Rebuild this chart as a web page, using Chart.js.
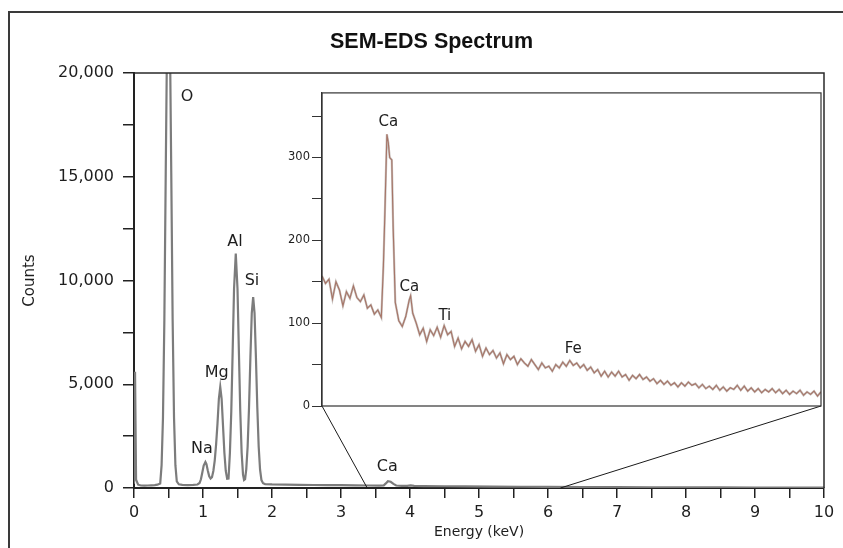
<!DOCTYPE html>
<html><head><meta charset="utf-8">
<script src="https://cdn.jsdelivr.net/npm/chart.js@4.4.1/dist/chart.umd.min.js"></script>
<style>
html,body{margin:0;padding:0;background:#fff;overflow:hidden;width:843px;height:548px;}
#frame{position:absolute;left:8px;top:11px;width:900px;height:700px;border-left:2.5px solid #3a3a3a;border-top:2.5px solid #3a3a3a;}
#main{position:absolute;left:0;top:0;}
#inset{position:absolute;left:280px;top:84px;}
</style></head><body>
<div id="frame"></div>
<canvas id="main" width="843" height="548"></canvas>
<canvas id="inset" width="550" height="334"></canvas>
<script>
// ---------- main spectrum (keV, counts) ----------
const mainEnergy = [0.00,0.015,0.03,0.06,0.10,0.15,0.20,0.25,0.30,0.34,0.38,0.40,0.42,0.44,0.46,0.48,0.50,0.52,0.54,0.56,0.58,0.60,0.62,0.65,0.70,0.78,0.86,0.92,0.95,0.97,0.99,1.01,1.035,1.05,1.07,1.09,1.11,1.13,1.15,1.17,1.19,1.21,1.23,1.25,1.27,1.29,1.31,1.33,1.35,1.37,1.39,1.41,1.43,1.45,1.475,1.50,1.52,1.54,1.56,1.58,1.595,1.61,1.627,1.647,1.667,1.687,1.707,1.727,1.747,1.767,1.787,1.807,1.827,1.847,1.87,1.90,2.00,2.20,2.40,2.60,2.80,3.00,3.20,3.40,3.55,3.62,3.65,3.68,3.72,3.76,3.80,3.88,3.96,4.01,4.06,4.20,4.50,4.80,5.20,5.60,6.00,6.50,7.00,7.50,8.00,8.50,9.00,9.50,10.00];
const mainCounts = [200,5600,400,160,120,110,120,130,140,160,220,1100,3400,8100,15200,22000,25000,22000,15200,8100,3400,1100,320,180,150,140,150,170,240,420,750,1080,1250,1150,830,560,460,520,820,1320,2100,3100,4300,4870,4300,3000,1700,820,450,460,1700,3700,6600,9600,11300,9600,6600,3700,1700,650,380,420,900,2000,3880,6300,8430,9200,8430,6300,3880,2000,880,380,230,190,170,160,150,145,140,135,128,120,115,130,220,330,300,200,120,105,100,130,105,95,85,75,68,60,52,45,40,35,30,26,22,19,16];

// ---------- inset spectrum (keV, counts) ----------
const insetEnergy = [2.75,2.80,2.85,2.90,2.95,3.00,3.05,3.10,3.15,3.20,3.25,3.30,3.35,3.40,3.45,3.50,3.55,3.60,3.63,3.65,3.68,3.70,3.72,3.75,3.77,3.80,3.85,3.90,3.95,4.00,4.02,
4.05,4.10,4.15,4.20,4.25,4.30,4.35,4.40,4.45,4.50,
4.55,4.60,4.65,4.70,4.75,4.80,4.85,4.90,4.95,5.00,
5.05,5.10,5.15,5.20,5.25,5.30,5.35,5.40,5.45,5.50,
5.55,5.60,5.65,5.70,5.75,5.80,5.85,5.90,5.95,6.00,
6.05,6.10,6.15,6.20,6.25,6.30,6.35,6.40,6.45,6.50,
6.55,6.60,6.65,6.70,6.75,6.80,6.85,6.90,6.95,7.00,
7.05,7.10,7.15,7.20,7.25,7.30,7.35,7.40,7.45,7.50,
7.55,7.60,7.65,7.70,7.75,7.80,7.85,7.90,7.95,8.00,
8.05,8.10,8.15,8.20,8.25,8.30,8.35,8.40,8.45,8.50,
8.55,8.60,8.65,8.70,8.75,8.80,8.85,8.90,8.95,9.00,
9.05,9.10,9.15,9.20,9.25,9.30,9.35,9.40,9.45,9.50,
9.55,9.60,9.65,9.70,9.75,9.80,9.85,9.90];
const insetCounts = [157,148,153,129,150,140,121,138,130,145,131,126,134,118,122,111,116,107,170,230,328,318,300,297,215,125,103,96,108,128,133,
112,100,86,94,78,92,85,95,83,97,
86,90,72,82,69,78,72,80,66,74,
60,70,62,67,58,64,51,62,56,60,
50,57,52,48,56,50,44,52,46,48,
42,50,46,53,48,55,49,52,46,50,
43,47,40,44,36,42,35,41,36,42,
35,38,31,37,33,38,32,35,30,33,
27,31,26,30,25,28,23,28,24,29,
25,27,22,26,21,24,20,25,19,23,
18,22,20,25,19,24,18,22,17,21,
16,20,17,21,16,20,15,19,14,18,
15,19,13,17,14,18,12,17];

// ---------- peak labels ----------
const mainLabelText   = ['O','Al','Si','Mg','Na','Ca'];
const mainLabelEnergy = [0.77,1.464,1.71,1.20,0.985,3.67];
const mainLabelCount  = [18850,11860,9980,5540,1880,1010];
const insetLabelText   = ['Ca','Ca','Ti','Fe'];
const insetLabelEnergy = [3.70,4.00,4.51,6.35];
const insetLabelCount  = [343,143,109,69];

// zoom window marked on main axis (keV)
const zoomSpan = [3.38, 6.18];

// axis ranges / ticks
const mainXRange = [0, 10];
const mainYRange = [0, 20000];
const insetXRange = [2.75, 9.9];
const insetYRange = [0, 378];

const TXT = '#1e1e1e';
const FONT = 'DejaVu Sans';

// ---------- inset chart ----------
const insetCanvas = document.getElementById('inset');
const insetDecor = {
  id: 'insetDecor',
  afterDraw(chart) {
    const {ctx, chartArea: a, scales: {x, y}} = chart;
    ctx.save();
    ctx.strokeStyle = '#333'; ctx.lineWidth = 1.2;
    ctx.strokeRect(a.left, a.top, a.right - a.left, a.bottom - a.top);
    ctx.fillStyle = TXT; ctx.font = '15px "' + FONT + '"';
    ctx.textAlign = 'center'; ctx.textBaseline = 'middle';
    insetLabelText.forEach((t, i) => ctx.fillText(t, x.getPixelForValue(insetLabelEnergy[i]), y.getPixelForValue(insetLabelCount[i])));
    ctx.restore();
  }
};
const insetPts = insetEnergy.map((e, i) => ({x: e, y: insetCounts[i]}));
const insetChart = new Chart(insetCanvas, {
  type: 'line',
  data: { datasets: [
    { data: insetPts, borderColor: 'rgba(160,150,145,0.6)', borderWidth: 2.2, pointRadius: 0, tension: 0 },
    { data: insetPts, borderColor: '#b0442a', borderWidth: 1.1, pointRadius: 0, tension: 0 }
  ]},
  options: {
    responsive: false, animation: false, events: [],
    layout: { padding: { left: 0, right: 9, top: 8, bottom: 12 } },
    plugins: { legend: { display: false }, tooltip: { enabled: false } },
    scales: {
      x: { type: 'linear', min: insetXRange[0], max: insetXRange[1], display: false },
      y: { type: 'linear', min: insetYRange[0], max: insetYRange[1],
        afterFit(s) { s.width = 42; },
        ticks: { stepSize: 50, includeBounds: false, padding: 2, color: TXT,
          font: { family: FONT, size: 11.5 },
          callback: v => (v % 100 === 0 ? String(v) : '') },
        grid: { drawOnChartArea: false, drawTicks: true, tickLength: 10, color: '#333', lineWidth: 1 },
        border: { color: '#333', width: 1.2 }
      }
    }
  },
  plugins: [insetDecor]
});

// ---------- main chart ----------
const mainDecor = {
  id: 'mainDecor',
  afterDraw(chart) {
    const {ctx, chartArea: a, scales: {x, y}} = chart;
    ctx.save();
    ctx.strokeStyle = '#2a2a2a'; ctx.lineWidth = 1.5;
    ctx.beginPath(); ctx.moveTo(a.left, a.top); ctx.lineTo(a.right, a.top); ctx.lineTo(a.right, a.bottom); ctx.stroke();
    const ia = insetChart.chartArea, ox = insetCanvas.offsetLeft, oy = insetCanvas.offsetTop;
    ctx.strokeStyle = '#1a1a1a'; ctx.lineWidth = 1;
    ctx.beginPath();
    ctx.moveTo(ox + ia.left, oy + ia.bottom); ctx.lineTo(x.getPixelForValue(zoomSpan[0]), y.getPixelForValue(0));
    ctx.moveTo(ox + ia.right, oy + ia.bottom); ctx.lineTo(x.getPixelForValue(zoomSpan[1]), y.getPixelForValue(0));
    ctx.stroke();
    ctx.fillStyle = TXT; ctx.font = '16px "' + FONT + '"';
    ctx.textAlign = 'center'; ctx.textBaseline = 'middle';
    mainLabelText.forEach((t, i) => ctx.fillText(t, x.getPixelForValue(mainLabelEnergy[i]), y.getPixelForValue(mainLabelCount[i])));
    ctx.restore();
  }
};
new Chart(document.getElementById('main'), {
  type: 'line',
  data: { datasets: [
    { data: mainEnergy.map((e, i) => ({x: e, y: mainCounts[i]})), borderColor: '#7c7c7c', borderWidth: 2.2, pointRadius: 0, tension: 0 }
  ]},
  options: {
    responsive: false, animation: false, events: [],
    layout: { padding: { left: 39, right: 19, top: 0, bottom: 0 } },
    plugins: {
      legend: { display: false }, tooltip: { enabled: false },
      title: { display: true, text: 'SEM-EDS Spectrum', color: '#111',
        font: { family: 'Liberation Sans', weight: 'bold', size: 21.5 },
        padding: { top: 29, bottom: 18.2 } }
    },
    scales: {
      x: { type: 'linear', min: mainXRange[0], max: mainXRange[1],
        afterFit(s) { s.height = 60; },
        ticks: { stepSize: 0.5, includeBounds: false, autoSkip: false, maxRotation: 0, padding: 5, color: TXT,
          font: { family: FONT, size: 16 },
          callback: v => (Number.isInteger(v) ? String(v) : '') },
        grid: { drawOnChartArea: false, drawTicks: true, tickLength: 10, color: '#222', lineWidth: 1.5 },
        border: { color: '#222', width: 2 },
        title: { display: true, text: 'Energy (keV)', color: TXT, font: { family: FONT, size: 14 }, padding: { top: 0, bottom: 7 } }
      },
      y: { type: 'linear', min: mainYRange[0], max: mainYRange[1],
        afterFit(s) { s.width = 95; },
        ticks: { stepSize: 2500, includeBounds: false, padding: 9, color: TXT,
          font: { family: FONT, size: 16 },
          callback: v => (v % 5000 === 0 ? v.toLocaleString('en-US') : '') },
        grid: { drawOnChartArea: false, drawTicks: true, tickLength: 11, color: '#222', lineWidth: 1.5 },
        border: { color: '#222', width: 2 },
        title: { display: true, text: 'Counts', color: TXT, font: { family: FONT, size: 15 }, padding: { top: -18, bottom: 0 } }
      }
    }
  },
  plugins: [mainDecor]
});
</script>
</body></html>
